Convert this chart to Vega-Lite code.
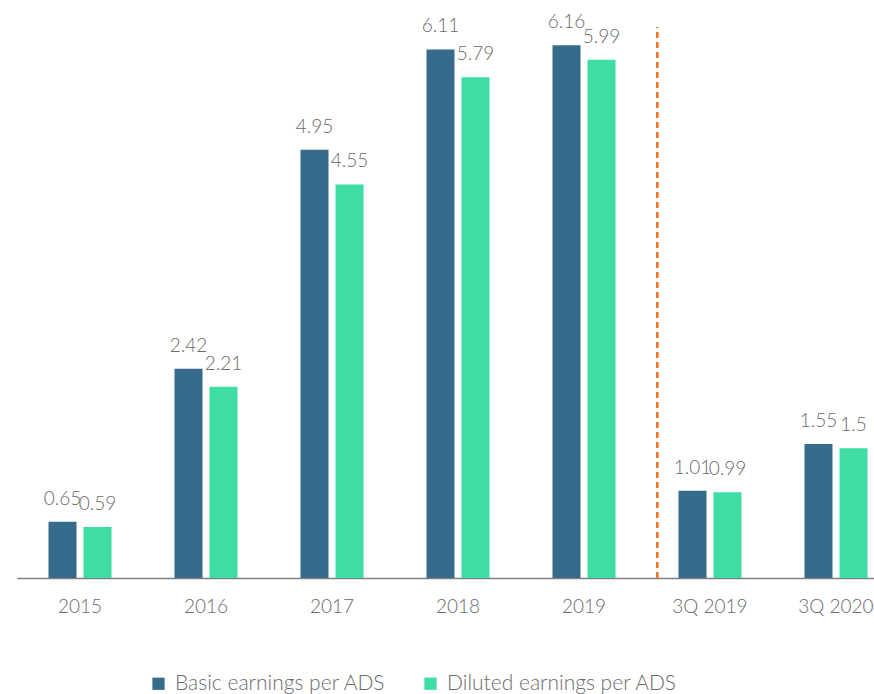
{
  "$schema": "https://vega.github.io/schema/vega-lite/v6.json",
  "autosize": {"type": "none"},
  "width": 857,
  "height": 578,
  "padding": {"left": 17, "top": 0, "right": 0, "bottom": 116},
  "background": "white",
  "config": {
    "view": {"stroke": null},
    "font": "Lato",
    "text": {"font": "Lato"}
  },
  "data": {
    "values": [
      {"period": "2015", "series": "Basic earnings per ADS", "value": 0.65},
      {"period": "2015", "series": "Diluted earnings per ADS", "value": 0.59},
      {"period": "2016", "series": "Basic earnings per ADS", "value": 2.42},
      {"period": "2016", "series": "Diluted earnings per ADS", "value": 2.21},
      {"period": "2017", "series": "Basic earnings per ADS", "value": 4.95},
      {"period": "2017", "series": "Diluted earnings per ADS", "value": 4.55},
      {"period": "2018", "series": "Basic earnings per ADS", "value": 6.11},
      {"period": "2018", "series": "Diluted earnings per ADS", "value": 5.79},
      {"period": "2019", "series": "Basic earnings per ADS", "value": 6.16},
      {"period": "2019", "series": "Diluted earnings per ADS", "value": 5.99},
      {"period": "3Q 2019", "series": "Basic earnings per ADS", "value": 1.01},
      {"period": "3Q 2019", "series": "Diluted earnings per ADS", "value": 0.99},
      {"period": "3Q 2020", "series": "Basic earnings per ADS", "value": 1.55},
      {"period": "3Q 2020", "series": "Diluted earnings per ADS", "value": 1.5}
    ]
  },
  "encoding": {
    "x": {
      "field": "period",
      "type": "nominal",
      "sort": null,
      "scale": {"range": [0, 882], "paddingInner": 0, "paddingOuter": 0},
      "axis": {
        "title": null,
        "labelAngle": 0,
        "ticks": false,
        "domainColor": "#808080",
        "domainWidth": 1.5,
        "labelFont": "Lato",
        "labelFontWeight": 300,
        "labelFontSize": 19,
        "labelColor": "#6b6b6b",
        "labelPadding": 19,
        "labelBaseline": "top"
      }
    },
    "xOffset": {
      "field": "series",
      "type": "nominal",
      "scale": {"paddingInner": 0.2, "paddingOuter": 0.9}
    },
    "y": {
      "field": "value",
      "type": "quantitative",
      "scale": {"domain": [0, 6.682], "nice": false, "zero": true},
      "axis": null
    }
  },
  "layer": [
    {
      "mark": {"type": "bar"},
      "encoding": {
        "color": {
          "field": "series",
          "type": "nominal",
          "scale": {"range": ["#376b8c", "#3ddda4"]},
          "legend": {
            "title": null,
            "orient": "none",
            "direction": "horizontal",
            "legendX": 131,
            "legendY": 673,
            "symbolType": "square",
            "symbolSize": 150,
            "symbolStrokeWidth": 0,
            "labelFont": "Lato",
            "labelFontWeight": 300,
            "labelFontSize": 21,
            "labelColor": "#6b6b6b",
            "labelOffset": 6,
            "labelLimit": 0,
            "columnPadding": 34,
            "padding": 0
          }
        }
      }
    },
    {
      "mark": {
        "type": "text",
        "baseline": "alphabetic",
        "dy": -17,
        "font": "Lato",
        "fontWeight": 300,
        "fontSize": 19,
        "color": "#6b6b6b"
      },
      "encoding": {
        "text": {"field": "value", "type": "quantitative"}
      }
    },
    {
      "mark": {"type": "rule", "color": "#f07a2a", "strokeWidth": 2, "strokeDash": [6, 4]},
      "encoding": {
        "x": {"datum": "3Q 2019", "bandPosition": 0.08},
        "xOffset": null,
        "y": {"datum": 0},
        "y2": {"datum": 6.36}
      }
    }
  ]
}
